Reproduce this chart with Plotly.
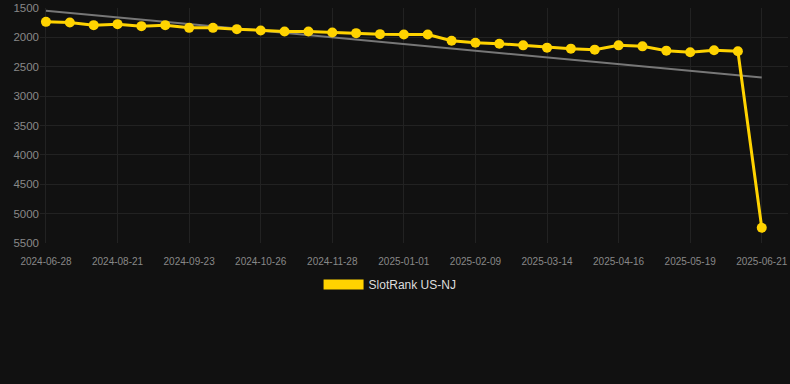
import plotly.graph_objects as go

dates = [
    "2024-06-28", "2024-07-16", "2024-08-03", "2024-08-21", "2024-09-01", "2024-09-12",
    "2024-09-23", "2024-10-04", "2024-10-15", "2024-10-26", "2024-11-06", "2024-11-17",
    "2024-11-28", "2024-12-09", "2024-12-20", "2025-01-01", "2025-01-14", "2025-01-27",
    "2025-02-09", "2025-02-20", "2025-03-03", "2025-03-14", "2025-03-25", "2025-04-05",
    "2025-04-16", "2025-04-27", "2025-05-08", "2025-05-19", "2025-05-30", "2025-06-10",
    "2025-06-21",
]
rank = [
    1736, 1748, 1792, 1775, 1809, 1792, 1838, 1838, 1860, 1883, 1900, 1900, 1917, 1928,
    1945, 1950, 1950, 2057, 2091, 2108, 2136, 2175, 2192, 2209, 2136, 2153, 2226, 2254,
    2220, 2237, 5241,
]
trend_ends = [1545, 2681]
tick_labels = dates[::3]
series_name = "SlotRank US-NJ"

YELLOW = "#FFD300"
BG = "#111111"

fig = go.Figure()
fig.add_trace(go.Scatter(
    x=[dates[0], dates[-1]], y=trend_ends, mode="lines",
    line=dict(color="#777777", width=2), showlegend=False, hoverinfo="skip",
))
fig.add_trace(go.Scatter(
    x=dates, y=rank, mode="lines+markers",
    line=dict(color=YELLOW, width=3),
    marker=dict(color=YELLOW, size=10),
    showlegend=False,
))
fig.add_trace(go.Scatter(
    x=[None], y=[None], mode="lines",
    line=dict(color=YELLOW, width=12), name=series_name, showlegend=True,
))

fig.update_layout(
    width=790, height=384,
    paper_bgcolor=BG, plot_bgcolor=BG,
    margin=dict(l=40, r=2, t=6, b=141),
    font=dict(family="Liberation Sans, Arial, sans-serif", color="#888888"),
    showlegend=True,
    legend=dict(
        orientation="h", x=0.468, xanchor="center", y=-0.115, yanchor="top",
        font=dict(size=12, color="#dddddd"), itemwidth=40,
        bgcolor="rgba(0,0,0,0)",
    ),
)
fig.update_xaxes(
    type="category", categoryorder="array", categoryarray=dates,
    range=[-0.25, 31.1],
    tickmode="array", tickvals=tick_labels, ticktext=tick_labels,
    tickfont=dict(size=10, color="#888888"),
    ticklabelstandoff=11,
    showgrid=True, gridcolor="#222222", gridwidth=1,
    showline=False, zeroline=False, ticks="",
)
fig.update_yaxes(
    range=[5500, 1500], tickvals=[1500, 2000, 2500, 3000, 3500, 4000, 4500, 5000, 5500],
    tickfont=dict(size=11.5, color="#888888"),
    ticklabeloverflow="allow",
    showgrid=True, gridcolor="#222222", gridwidth=1,
    zeroline=False, showline=False, ticks="",
)
fig.write_html("out.html", config={"displayModeBar": False})

with open("out.html", "r", encoding="utf-8") as f:
    html = f.read()
html = html.replace("<body>", '<body style="margin:0;background:#111111">', 1)
with open("out.html", "w", encoding="utf-8") as f:
    f.write(html)
